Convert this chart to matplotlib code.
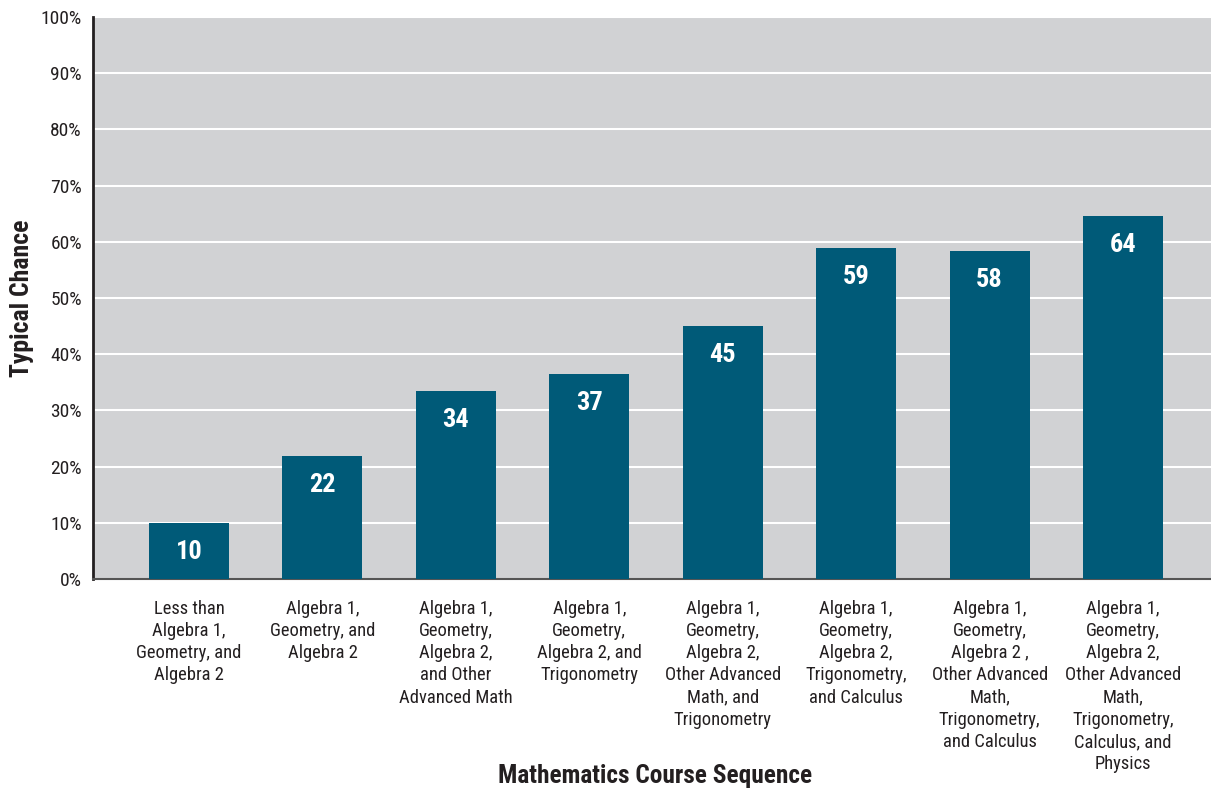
import matplotlib.pyplot as plt
from matplotlib.ticker import PercentFormatter

plt.rcParams['font.family'] = ['Roboto Condensed', 'DejaVu Sans']

# Datos
categorias = [
    "Less than\nAlgebra 1,\nGeometry, and\nAlgebra 2",
    "Algebra 1,\nGeometry, and\nAlgebra 2",
    "Algebra 1,\nGeometry,\nAlgebra 2,\nand Other\nAdvanced Math",
    "Algebra 1,\nGeometry,\nAlgebra 2, and\nTrigonometry",
    "Algebra 1,\nGeometry,\nAlgebra 2,\nOther Advanced\nMath, and\nTrigonometry",
    "Algebra 1,\nGeometry,\nAlgebra 2,\nTrigonometry,\nand Calculus",
    "Algebra 1,\nGeometry,\nAlgebra 2 ,\nOther Advanced\nMath,\nTrigonometry,\nand Calculus",
    "Algebra 1,\nGeometry,\nAlgebra 2,\nOther Advanced\nMath,\nTrigonometry,\nCalculus, and\nPhysics",
]
alturas = [10, 21.9, 33.5, 36.5, 45, 58.9, 58.4, 64.6]
etiquetas = ["10", "22", "34", "37", "45", "59", "58", "64"]

fig = plt.figure(figsize=(12.11, 7.92), dpi=100)
ax = fig.add_axes([0.0768, 0.2689, 0.9232, 0.7096])
ax.set_facecolor('#d1d2d4')

x = list(range(len(categorias)))
ax.bar(x, alturas, width=0.6, color='#005a78', zorder=3)

for xi, h, t in zip(x, alturas, etiquetas):
    ax.text(xi, h - 3.0, t, ha='center', va='top', color='white',
            fontsize=19, fontweight='bold', zorder=4)

ax.set_ylim(0, 100)
ax.set_xlim(-0.7195, 7.659)
ax.set_yticks(range(0, 101, 10))
ax.yaxis.set_major_formatter(PercentFormatter(decimals=0))
ax.grid(axis='y', color='white', linewidth=1.5, zorder=1)
ax.set_axisbelow(True)

ax.set_xticks(x)
ax.set_xticklabels(categorias, fontsize=13.3, linespacing=1.3, va='top', color='#231f20')
ax.tick_params(axis='x', length=0, pad=15)
ax.tick_params(axis='y', length=0, pad=8, labelsize=14, labelcolor='#231f20')

for s in ['top', 'right']:
    ax.spines[s].set_visible(False)
ax.spines['left'].set_color('#231f20')
ax.spines['left'].set_linewidth(2)
ax.spines['bottom'].set_color('#555555')
ax.spines['bottom'].set_linewidth(1.5)

fig.text(0.018, 0.624, 'Typical Chance', rotation=90, ha='center', va='center',
         fontsize=18.5, fontweight='bold', color='#231f20')
fig.text(0.541, 0.0202, 'Mathematics Course Sequence', ha='center', va='center',
         fontsize=18.3, fontweight='bold', color='#231f20')

fig.savefig('out.png', dpi=100)
